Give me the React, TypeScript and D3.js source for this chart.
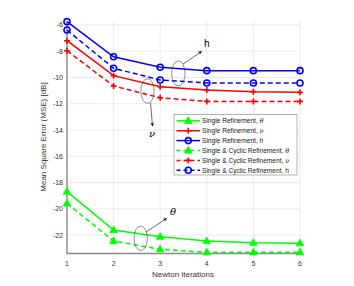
import React from 'react';
import * as d3 from 'd3';

const iterations = [1, 2, 3, 4, 5, 6];
const singleTheta = [-18.69, -21.61, -22.12, -22.45, -22.58, -22.62];
const singleNu = [-7.2, -9.86, -10.7, -10.95, -11.08, -11.13];
const singleH = [-5.75, -8.42, -9.22, -9.48, -9.48, -9.48];
const cyclicTheta = [-19.58, -22.45, -23.08, -23.31, -23.31, -23.31];
const cyclicNu = [-7.96, -10.65, -11.54, -11.82, -11.82, -11.82];
const cyclicH = [-6.39, -9.3, -10.19, -10.42, -10.42, -10.42];
const yTicks = [-6, -8, -10, -12, -14, -16, -18, -20, -22];

const seriesList = [
  { name: 'Single Refinement, ', sym: 'θ', values: singleTheta, color: '#00ff00', dash: false, marker: 'tri' },
  { name: 'Single Refinement, ', sym: 'ν', values: singleNu, color: '#ff0000', dash: false, marker: 'plus' },
  { name: 'Single Refinement, ', sym: 'h', values: singleH, color: '#0000ff', dash: false, marker: 'circle' },
  { name: 'Single & Cyclic Refinement, ', sym: 'θ', values: cyclicTheta, color: '#00ff00', dash: true, marker: 'tri' },
  { name: 'Single & Cyclic Refinement, ', sym: 'ν', values: cyclicNu, color: '#ff0000', dash: true, marker: 'plus' },
  { name: 'Single & Cyclic Refinement, ', sym: 'h', values: cyclicH, color: '#0000ff', dash: true, marker: 'circle' },
];

const font = 'Liberation Sans, Arial, sans-serif';

function Marker({ type, x, y, color }: { type: string; x: number; y: number; color: string }) {
  if (type === 'tri') {
    return <path d={`M${x},${y - 4} L${x + 3.8},${y + 2.6} L${x - 3.8},${y + 2.6} Z`} fill={color} stroke={color} strokeWidth={0.8} />;
  }
  if (type === 'plus') {
    return <path d={`M${x - 3},${y} H${x + 3} M${x},${y - 3} V${y + 3}`} stroke={color} strokeWidth={1.6} />;
  }
  return <circle cx={x} cy={y} r={3} fill="none" stroke={color} strokeWidth={1.6} />;
}

export default function App() {
  const width = 354;
  const height = 286;
  const x = d3.scaleLinear().domain([1, 6]).range([67, 300]);
  const y = d3.scaleLinear().domain([-5.7, -23.4]).range([21, 253.5]);
  const line = d3.line<number>().x((_, i) => x(iterations[i])).y(d => y(d));

  const legX = 174;
  const legY = 114.5;
  const rowH = 9.9;

  return (
    <svg width={width} height={height} style={{ position: 'absolute', left: 0, top: 0 }} fontFamily={font}>
      <defs>
        <marker id="arr" viewBox="0 0 10 10" refX="9" refY="5" markerWidth="6" markerHeight="6" orient="auto">
          <path d="M0,0 L10,5 L0,10 L3,5 Z" fill="#000" />
        </marker>
      </defs>
      <rect width={width} height={height} fill="#fff" />
      {/* grid */}
      {iterations.map(t => (
        <line key={'gx' + t} x1={x(t)} x2={x(t)} y1={21} y2={253.5} stroke="#e6e6e6" strokeWidth={0.8} />
      ))}
      {yTicks.map(t => (
        <line key={'gy' + t} x1={67} x2={300} y1={y(t)} y2={y(t)} stroke="#e6e6e6" strokeWidth={0.8} />
      ))}
      {/* axes */}
      <line x1={67} x2={67} y1={21} y2={254} stroke="#8c8c8c" strokeWidth={1.4} />
      <line x1={66.5} x2={300} y1={253.5} y2={253.5} stroke="#8c8c8c" strokeWidth={1.4} />
      {yTicks.map(t => (
        <text key={'ty' + t} x={63} y={y(t) + 2.5} fontSize={7} textAnchor="end" fill="#333">{t}</text>
      ))}
      {iterations.map(t => (
        <text key={'tx' + t} x={x(t)} y={265.5} fontSize={7} textAnchor="middle" fill="#333">{t}</text>
      ))}
      <text x={183} y={276.5} fontSize={8} textAnchor="middle" fill="#333">Newton iterations</text>
      <text transform={`translate(46,137) rotate(-90)`} fontSize={8} textAnchor="middle" fill="#333">Mean Square Error (MSE) [dB]</text>

      {/* series */}
      {seriesList.map((s, k) => (
        <g key={'s' + k}>
          <path d={line(s.values) || ''} fill="none" stroke={s.color} strokeWidth={1.5} strokeDasharray={s.dash ? '5,3' : undefined} />
          {s.values.map((v, i) => (
            <Marker key={i} type={s.marker} x={x(iterations[i])} y={y(v)} color={s.color} />
          ))}
        </g>
      ))}

      {/* annotations */}
      <ellipse cx={178.3} cy={73.5} rx={6.7} ry={12.5} fill="none" stroke="#444" strokeWidth={0.6} />
      <line x1={183} x2={201.5} y1={64} y2={51.5} stroke="#000" strokeWidth={0.6} markerEnd="url(#arr)" />
      <text x={204} y={47} fontSize={10} fill="#000">h</text>

      <ellipse cx={147.5} cy={91} rx={6.7} ry={12.3} fill="none" stroke="#444" strokeWidth={0.6} />
      <line x1={150.5} x2={152.5} y1={103} y2={126} stroke="#000" strokeWidth={0.6} markerEnd="url(#arr)" />
      <text x={152} y={137} fontSize={10} fontStyle="italic" textAnchor="middle" fontFamily="DejaVu Serif, serif">ν</text>

      <ellipse cx={140.7} cy={238.3} rx={6.7} ry={12.3} fill="none" stroke="#444" strokeWidth={0.6} />
      <line x1={146} x2={166.5} y1={232} y2={218.5} stroke="#000" strokeWidth={0.6} markerEnd="url(#arr)" />
      <text x={170} y={215} fontSize={10} fontStyle="italic" fontFamily="DejaVu Serif, serif">θ</text>

      {/* legend */}
      <rect x={legX} y={legY} width={123} height={60.5} fill="#fff" stroke="#a0a0a0" strokeWidth={0.8} />
      {seriesList.map((s, k) => {
        const ry = legY + 6.3 + k * rowH;
        return (
          <g key={'l' + k}>
            <line x1={176.5} x2={200} y1={ry} y2={ry} stroke={s.color} strokeWidth={1.5} strokeDasharray={s.dash ? '4,3' : undefined} />
            <Marker type={s.marker} x={188.3} y={ry} color={s.color} />
            <text x={202} y={ry + 2.4} fontSize={6.6} fill="#222">
              {s.name}
              <tspan fontStyle={s.sym === 'h' ? 'normal' : 'italic'} fontFamily={s.sym === 'h' ? font : 'DejaVu Serif, serif'}>{s.sym}</tspan>
            </text>
          </g>
        );
      })}
    </svg>
  );
}
